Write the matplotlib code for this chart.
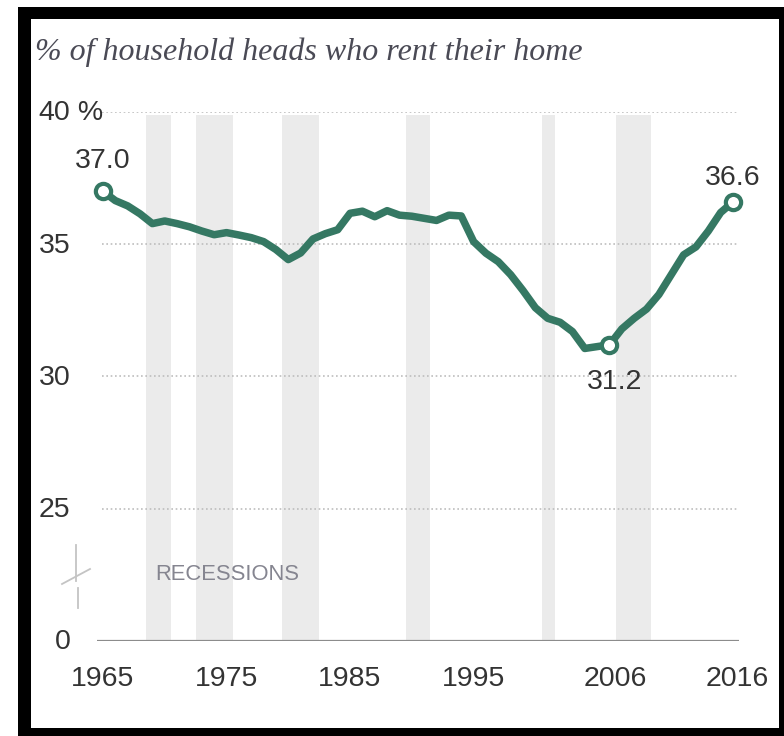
import matplotlib
matplotlib.use("Agg")
import matplotlib.pyplot as plt
from matplotlib.patches import Rectangle
from matplotlib.lines import Line2D

# Share of household heads who rent their home, 1965-2016
years = list(range(1965, 2017))
renters = [37.0, 36.65, 36.45, 36.15, 35.78, 35.88, 35.78, 35.66, 35.5, 35.36,
           35.44, 35.35, 35.25, 35.1, 34.8, 34.42, 34.67, 35.2, 35.4, 35.55,
           36.17, 36.25, 36.04, 36.27, 36.1, 36.06, 35.98, 35.9, 36.1, 36.07,
           35.1, 34.66, 34.34, 33.85, 33.25, 32.6, 32.2, 32.05, 31.7, 31.06,
           31.13, 31.2, 31.8, 32.2, 32.55, 33.1, 33.85, 34.6, 34.9, 35.5,
           36.2, 36.6]

# Shaded recession periods (start, end)
recessions = [(1968.5, 1970.5), (1972.5, 1975.5), (1979.5, 1982.5),
              (1989.5, 1991.5), (2000.5, 2001.6), (2006.5, 2009.4)]

# Labelled points
labelled = {1965: "37.0", 2006: "31.2", 2016: "36.6"}

ytick_vals = [40, 35, 30, 25, 20]
ytick_text = ["40", "35", "30", "25", "0"]
xtick_vals = [1965, 1975, 1985, 1995, 2006, 2016]

W, H = 784, 736
fig = plt.figure(figsize=(W / 100, H / 100), dpi=100)
fig.patch.set_facecolor("white")


def px(x, y):
    """figure pixel (from top-left) to figure fraction"""
    return x / W, 1 - y / H


# black frame around the chart
fig.patches.append(Rectangle((18 / W, 0), 1 - 18 / W, 1 - 7 / H,
                             transform=fig.transFigure, facecolor="black",
                             edgecolor="none", zorder=-3))
fig.patches.append(Rectangle((31 / W, 8 / H), (779 - 31) / W, (728 - 19) / H,
                             transform=fig.transFigure, facecolor="white",
                             edgecolor="none", zorder=-2))

left, right = 96.8, 739.2
top, bottom = 112, 641
ax = fig.add_axes([left / W, 1 - bottom / H, (right - left) / W, (bottom - top) / H])
ax.set_xlim(1964.5, 2016.5)
ax.set_ylim(20, 40)
ax.patch.set_alpha(0)
for s in ax.spines.values():
    s.set_visible(False)
ax.set_xticks([])
ax.set_yticks([])

# recession bands
for a, b in recessions:
    ax.axvspan(a, b, ymin=0, ymax=0.995, color="#ebebeb", lw=0, zorder=1)

# dotted gridlines
for v in ytick_vals[:-1]:
    ax.hlines(v, 1964.9, 2016.4, colors="#bdbdbd", linestyles=(0, (1, 1.6)),
              lw=1.2, zorder=2)
# baseline
ax.hlines(20, 1964.5, 2016.5, colors="#8c8c8c", lw=1.6, zorder=2)

tick_font = dict(family="Liberation Sans", size=20.5, color="#333333")

# y tick labels
for v, t in zip(ytick_vals, ytick_text):
    ax.annotate(t, xy=(0, v), xycoords=ax.get_yaxis_transform(),
                xytext=(-19, -1), textcoords="offset points",
                ha="right", va="center", **tick_font)
ax.annotate(" %", xy=(0, 40), xycoords=ax.get_yaxis_transform(),
            xytext=(-19, -1), textcoords="offset points",
            ha="left", va="center", **tick_font)

# x tick labels
x_nudge = {2006: 4, 2016: 3}
for yv in xtick_vals:
    ax.annotate(str(yv), xy=(yv, 0), xycoords=ax.get_xaxis_transform(),
                xytext=(x_nudge.get(yv, 0), -27), textcoords="offset points",
                ha="center", va="center", **tick_font)

# the series
green = "#357863"
ax.plot(years, renters, color=green, lw=5.4, solid_joinstyle="round",
        solid_capstyle="round", zorder=4, clip_on=False)

label_offsets = {1965: (0, 22), 2006: (4, -27), 2016: (0, 17.5)}
for yr, lab in labelled.items():
    val = renters[years.index(yr)]
    ax.plot([yr], [val], marker="o", ms=11, mfc="white", mec=green, mew=3,
            zorder=5, clip_on=False)
    ax.annotate(lab, xy=(yr, val), xytext=label_offsets[yr],
                textcoords="offset points", ha="center", va="center",
                **tick_font)

# recessions key
ax.text(1969.2, 22.5, "RECESSIONS", ha="left", va="center",
        family="Liberation Sans", size=15.8, color="#858590", zorder=3)

# axis break mark
brk = dict(color="#c4c4c4", lw=1.3, transform=fig.transFigure)
fig.add_artist(Line2D(*zip(px(76, 545), px(76, 581)), **brk))
fig.add_artist(Line2D(*zip(px(62, 584), px(90, 569)), **brk))
fig.add_artist(Line2D(*zip(px(78, 588), px(78, 608)), **brk))

# subtitle
fig.text(35 / W, 1 - 52 / H, "% of household heads who rent their home",
         family="Liberation Serif", style="italic", size=23,
         color="#4a4a55", ha="left", va="center")

fig.savefig("out.png", dpi=100, facecolor=fig.get_facecolor())
